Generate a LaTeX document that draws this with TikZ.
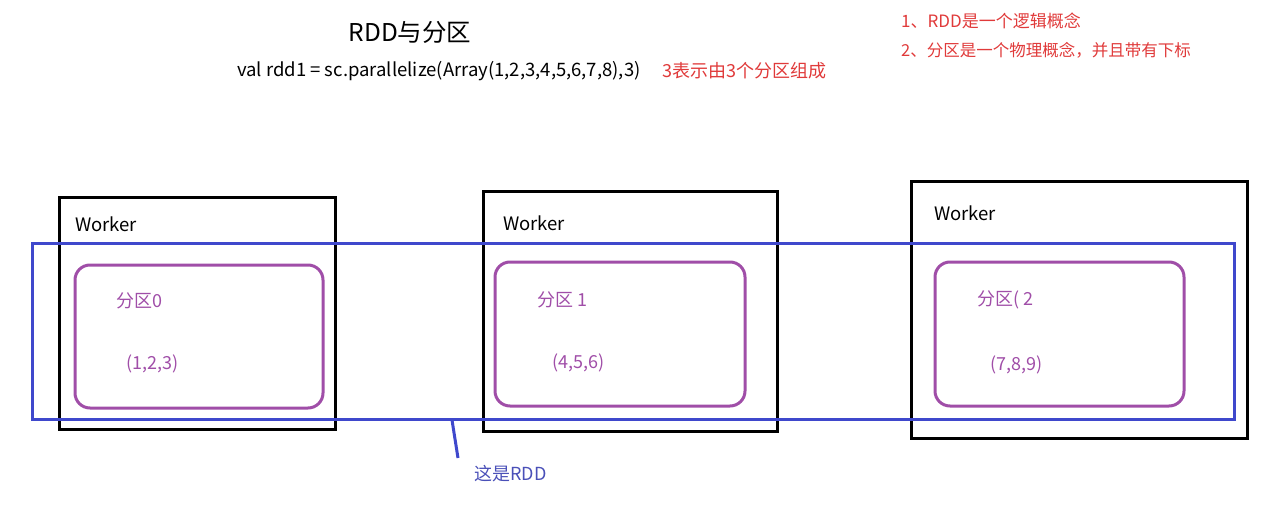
\documentclass[tikz,border=0pt]{standalone}
\usepackage{fontspec}
\setmainfont{Noto Sans CJK SC}
\begin{document}
\begin{tikzpicture}[x=1pt,y=-1pt,
  worker/.style={draw=black,line width=3pt},
  part/.style={draw=partc,line width=3pt,rounded corners=15pt},
  ptxt/.style={text=partc,font=\fontsize{18}{21}\selectfont,anchor=west,inner sep=0pt},
  wtxt/.style={font=\fontsize{18.5}{22}\selectfont,anchor=west,inner sep=0pt},
  redtxt/.style={text=redc,font=\fontsize{16.5}{20}\selectfont,anchor=west,inner sep=0pt}]
\definecolor{partc}{HTML}{A04EA8}
\definecolor{bluec}{HTML}{3F48CC}
\definecolor{redc}{HTML}{E03A3A}
\definecolor{bluetxt}{HTML}{4A50B8}
\useasboundingbox (0,0) rectangle (1277,505);
% title and code
\node[font=\fontsize{24.5}{28}\selectfont,inner sep=0pt] (title) at (410,32) {RDD与分区};
\node[font=\fontsize{18.5}{22}\selectfont,anchor=west,inner sep=0pt] (code) at (237,71) {val rdd1 = sc.parallelize(Array(1,2,3,4,5,6,7,8),3)};
\node[redtxt,font=\fontsize{18}{21}\selectfont] (note) at (662,71) {3表示由3个分区组成};
\node[redtxt,font=\fontsize{17}{20}\selectfont] (r1) at (901,21) {1、RDD是一个逻辑概念};
\node[redtxt] (r2) at (901,50) {2、分区是一个物理概念，并且带有下标};
% workers
\draw[worker] (59,198) rectangle (335,429);
\draw[worker] (483,192) rectangle (777,431);
\draw[worker] (911,182) rectangle (1247,438);
\node[wtxt] (w1) at (75,224) {Worker};
\node[wtxt] (w2) at (503,223) {Worker};
\node[wtxt] (w3) at (934,213) {Worker};
% partitions
\draw[part] (75,265) rectangle (323,408);
\draw[part] (495,262) rectangle (745,406);
\draw[part] (935,262) rectangle (1184,406);
\node[ptxt] (p0) at (116,301) {分区0};
\node[ptxt] (d0) at (126,364) {(1,2,3)};
\node[ptxt] (p1) at (537,300) {分区 1};
\node[ptxt] (d1) at (552,363) {(4,5,6)};
\node[ptxt] (p2) at (977,300) {分区( 2};
\node[ptxt] (d2) at (990,365) {(7,8,9)};
% RDD rectangle
\draw[draw=bluec,line width=3pt] (32,244) rectangle (1234,419);
\coordinate (rddedge) at (452,420);
\node[text=bluetxt,font=\fontsize{18}{21}\selectfont,anchor=west,inner sep=0pt] (rddlbl) at (474,474) {这是RDD};
\coordinate (lineend) at (458,458);
\draw[bluec,line width=3pt] (rddedge) -- (lineend);
\end{tikzpicture}
\end{document}
